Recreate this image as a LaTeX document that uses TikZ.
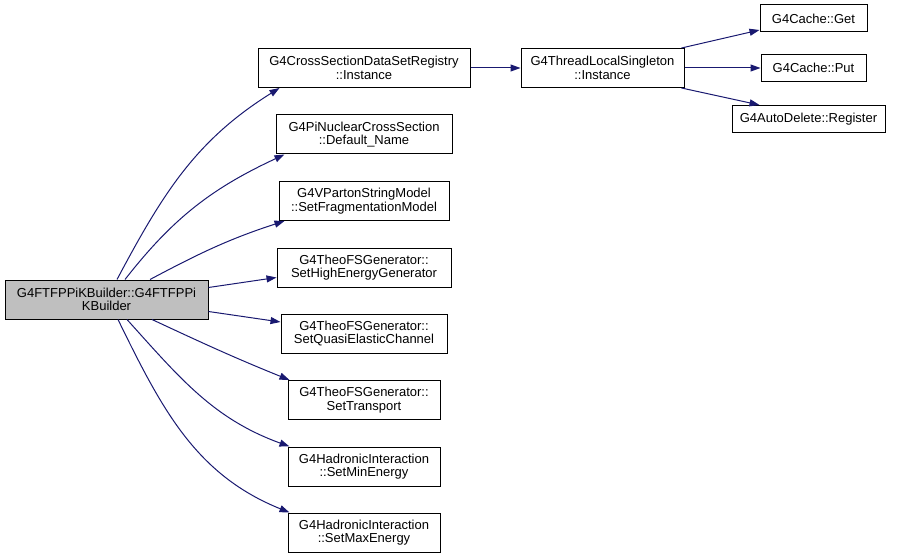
\documentclass[tikz,border=0pt]{standalone}
\usepackage{fontspec}
\setmainfont{Liberation Sans}
\usepackage{xcolor}
\usetikzlibrary{arrows.meta,positioning}

\definecolor{edgeblue}{HTML}{191970}
\definecolor{rootgray}{HTML}{BFBFBF}

\begin{document}
\begin{tikzpicture}[x=1pt, y=1pt,
  fn/.style={draw=black, fill=white, line width=1pt, minimum height=39pt, inner sep=0pt,
    align=center, font=\fontsize{13}{13.3}\selectfont},
  fnone/.style={fn, minimum height=27pt},
  call/.style={edgeblue, line width=1pt, -{Triangle[length=10pt,width=7pt]}}]
\useasboundingbox (0,0) rectangle (901,-553);

% Caller
\node[fn, fill=rootgray, minimum width=203pt] (root) at (106.5,-299.5) {G4FTFPPiKBuilder::G4FTFPPi\\KBuilder};

% Direct callees
\foreach \name/\y/\w/\txt in {
  reg/-68/212/{G4CrossSectionDataSetRegistry\\::Instance},
  pinuc/-134.5/176/{G4PiNuclearCrossSection\\::Default\_Name},
  parton/-201/170/{G4VPartonStringModel\\::SetFragmentationModel},
  higheg/-267.5/174/{G4TheoFSGenerator::\\SetHighEnergyGenerator},
  quasi/-333.5/166/{G4TheoFSGenerator::\\SetQuasiElasticChannel},
  transp/-400/152/{G4TheoFSGenerator::\\SetTransport},
  minen/-466.5/152/{G4HadronicInteraction\\::SetMinEnergy},
  maxen/-532.5/152/{G4HadronicInteraction\\::SetMaxEnergy}}
  \node[fn, minimum width=\w pt] (\name) at (364,\y) {\txt};

% Second level
\node[fn, minimum width=163pt] (tls) at (602.5,-68) {G4ThreadLocalSingleton\\::Instance};
\node[fnone, minimum width=107pt] (get) at (813.5,-18.5) {G4Cache::Get};
\node[fnone, minimum width=105pt] (put) at (813.5,-68) {G4Cache::Put};
\node[fnone, minimum width=153pt] (register) at (808.5,-119) {G4AutoDelete::Register};

% Calls from the caller
\draw[call] ([xshift=10.5]root.north) to[out=62, in=-148] ([xshift=22]reg.south west);
\draw[call] ([xshift=18.5]root.north) to[out=52, in=-155] ([xshift=9]pinuc.south west);
\draw[call] ([xshift=43.5]root.north) to[out=28, in=-162] ([xshift=6]parton.south west);
\draw[call] ([yshift=12]root.east) -- ([yshift=-10]higheg.west);
\draw[call] ([yshift=-12]root.east) -- ([yshift=11.5]quasi.west);
\draw[call] ([xshift=45.5]root.south) to[out=-25, in=158] ([xshift=2]transp.north west);
\draw[call] ([xshift=20.5]root.south) to[out=-48, in=160] ([xshift=2]minen.north west);
\draw[call] ([xshift=11.5]root.south) to[out=-64, in=158] ([xshift=2]maxen.north west);

% Calls further on
\draw[call] (reg.east) -- (tls.west);
\draw[call] ([xshift=-3]tls.north east) -- ([yshift=-11.5]get.west);
\draw[call] (tls.east) -- (put.west);
\draw[call] ([xshift=-3]tls.south east) -- ([xshift=28]register.north west);
\end{tikzpicture}
\end{document}
